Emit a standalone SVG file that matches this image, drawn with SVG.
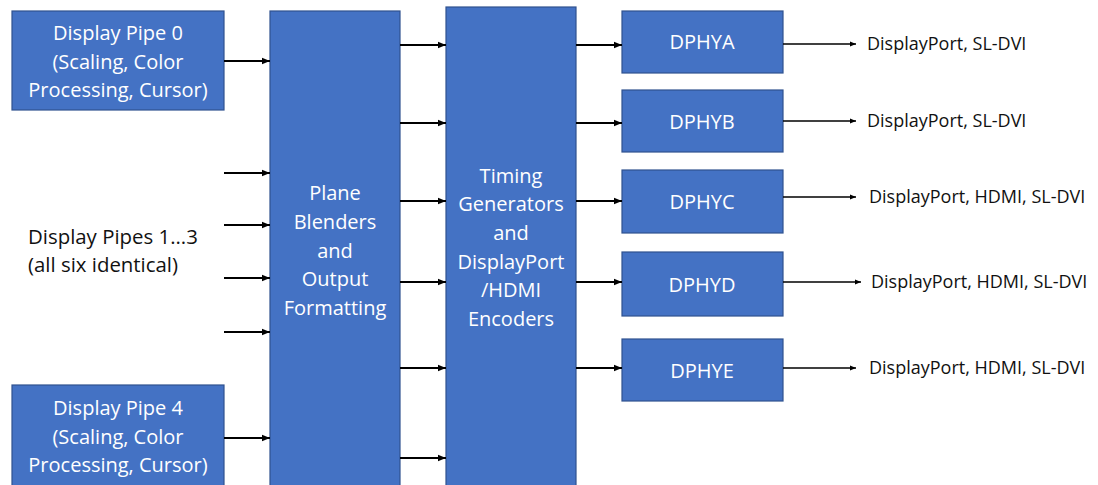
<svg xmlns="http://www.w3.org/2000/svg" width="1098" height="485" viewBox="0 0 1098 485">
<defs>
<marker id="ah" viewBox="0 0 10 10" refX="10" refY="5" markerWidth="4" markerHeight="4" orient="auto" markerUnits="strokeWidth">
<path d="M0,1 L10,5 L0,9 Z" fill="#000"/>
</marker>
<style>
.box{fill:#4472C4;stroke:#2F528F;stroke-width:1.2}
.bt{font-family:"Open Sans","Liberation Sans",sans-serif;font-size:20px;fill:#fff;text-anchor:middle}
.lt{font-family:"Open Sans","Liberation Sans",sans-serif;font-size:20.4px;fill:#111}
.ot{font-family:"Open Sans","Liberation Sans",sans-serif;font-size:18px;fill:#111}
.ar{stroke:#000;stroke-width:2;fill:none;marker-end:url(#ah)}
.ar2{stroke:#000;stroke-width:1.5;fill:none;marker-end:url(#ah)}
</style>
</defs>
<rect width="1098" height="485" fill="#fff"/>
<g id="pipe0">
<rect class="box" x="12" y="11" width="212" height="99"/>
<text class="bt" x="118" y="40">Display Pipe 0</text>
<text class="bt" x="118" y="69">(Scaling, Color</text>
<text class="bt" x="118" y="97">Processing, Cursor)</text>
</g>
<g id="pipes13">
<text class="lt" x="28" y="244">Display Pipes 1...3</text>
<text class="lt" x="28" y="272">(all six identical)</text>
</g>
<g id="pipe4">
<rect class="box" x="12" y="385" width="212" height="105"/>
<text class="bt" x="118" y="415">Display Pipe 4</text>
<text class="bt" x="118" y="444">(Scaling, Color</text>
<text class="bt" x="118" y="472">Processing, Cursor)</text>
</g>
<g id="blender">
<rect class="box" x="270" y="11" width="130" height="480"/>
<text class="bt" x="335" y="200">Plane</text>
<text class="bt" x="335" y="229">Blenders</text>
<text class="bt" x="335" y="258">and</text>
<text class="bt" x="335" y="286">Output</text>
<text class="bt" x="335" y="315">Formatting</text>
</g>
<g id="timing">
<rect class="box" x="446" y="7" width="130" height="484"/>
<text class="bt" x="511" y="183">Timing</text>
<text class="bt" x="511" y="211">Generators</text>
<text class="bt" x="511" y="240">and</text>
<text class="bt" x="511" y="269">DisplayPort</text>
<text class="bt" x="511" y="297">/HDMI</text>
<text class="bt" x="511" y="326">Encoders</text>
</g>
<g id="dphya">
<rect class="box" x="622" y="11" width="161" height="62"/>
<text class="bt" x="702" y="49">DPHYA</text>
</g>
<g id="dphyb">
<rect class="box" x="622" y="90" width="161" height="62"/>
<text class="bt" x="702" y="129">DPHYB</text>
</g>
<g id="dphyc">
<rect class="box" x="622" y="170" width="161" height="63"/>
<text class="bt" x="702" y="209">DPHYC</text>
</g>
<g id="dphyd">
<rect class="box" x="622" y="252" width="161" height="64"/>
<text class="bt" x="702" y="292">DPHYD</text>
</g>
<g id="dphye">
<rect class="box" x="622" y="339" width="161" height="62"/>
<text class="bt" x="702" y="378">DPHYE</text>
</g>
<g id="outputs">
<text class="ot" x="867" y="50">DisplayPort, SL-DVI</text>
<text class="ot" x="867" y="127">DisplayPort, SL-DVI</text>
<text class="ot" x="869" y="203">DisplayPort, HDMI, SL-DVI</text>
<text class="ot" x="871" y="288">DisplayPort, HDMI, SL-DVI</text>
<text class="ot" x="869" y="374">DisplayPort, HDMI, SL-DVI</text>
</g>
<g id="connectors">
<line class="ar" x1="224" y1="61" x2="270" y2="61"/>
<line class="ar" x1="224" y1="173" x2="270" y2="173"/>
<line class="ar" x1="224" y1="225" x2="270" y2="225"/>
<line class="ar" x1="224" y1="278" x2="270" y2="278"/>
<line class="ar" x1="224" y1="332" x2="270" y2="332"/>
<line class="ar" x1="224" y1="438" x2="270" y2="438"/>
<line class="ar" x1="400" y1="45" x2="446" y2="45"/>
<line class="ar" x1="400" y1="123" x2="446" y2="123"/>
<line class="ar" x1="400" y1="201" x2="446" y2="201"/>
<line class="ar" x1="400" y1="282" x2="446" y2="282"/>
<line class="ar" x1="400" y1="368" x2="446" y2="368"/>
<line class="ar" x1="400" y1="458" x2="446" y2="458"/>
<line class="ar" x1="576" y1="45" x2="622" y2="45"/>
<line class="ar" x1="576" y1="123" x2="622" y2="123"/>
<line class="ar" x1="576" y1="201" x2="622" y2="201"/>
<line class="ar" x1="576" y1="282" x2="622" y2="282"/>
<line class="ar" x1="576" y1="368" x2="622" y2="368"/>
<line class="ar2" x1="783" y1="44" x2="856" y2="44"/>
<line class="ar2" x1="783" y1="121" x2="856" y2="121"/>
<line class="ar2" x1="783" y1="197" x2="856" y2="197"/>
<line class="ar2" x1="783" y1="282" x2="861" y2="282"/>
<line class="ar2" x1="783" y1="368" x2="856" y2="368"/>
</g>
</svg>
